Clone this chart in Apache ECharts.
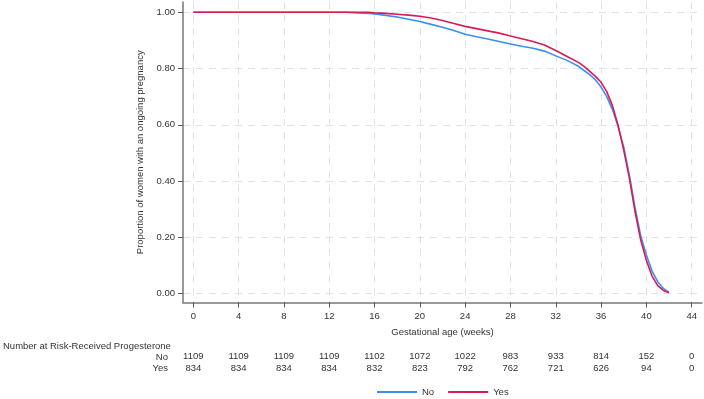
<!DOCTYPE html>
<html>
<head>
<meta charset="utf-8">
<script src="https://cdn.jsdelivr.net/npm/echarts@6/dist/echarts.min.js"></script>
<style>
	html, body { margin: 0; padding: 0; background: #fff; }
	#chart { width: 704px; height: 399px; }
</style>
</head>
<body>
<div id="chart"></div>
<script>
// x-axis ticks (weeks) and y-axis ticks
var xTicks = [0, 4, 8, 12, 16, 20, 24, 28, 32, 36, 40, 44];
var yTicks = [0, 0.2, 0.4, 0.6, 0.8, 1];

// Number at risk per tick
var riskNo = [1109, 1109, 1109, 1109, 1102, 1072, 1022, 983, 933, 814, 152, 0];
var riskYes = [834, 834, 834, 834, 832, 823, 792, 762, 721, 626, 94, 0];

// Received progesterone = No
var noWeeks = [0, 13.5, 14.5, 15.5, 16, 17, 18, 19, 20, 21, 22, 23, 24, 25, 26, 27, 28, 29, 30, 31, 32, 33, 34, 34.5, 35, 35.5, 36, 36.5, 37, 37.5, 38, 38.5, 39, 39.5, 40, 40.5, 41, 41.5, 42];
var noSurv = [1, 1, 0.998, 0.996, 0.994, 0.989, 0.983, 0.975, 0.967, 0.957, 0.947, 0.935, 0.922, 0.913, 0.905, 0.896, 0.887, 0.879, 0.872, 0.862, 0.845, 0.829, 0.808, 0.793, 0.778, 0.760, 0.734, 0.700, 0.655, 0.595, 0.520, 0.420, 0.305, 0.205, 0.137, 0.080, 0.042, 0.018, 0.004];

// Received progesterone = Yes
var yesWeeks = [0, 15.5, 16, 17, 18, 19, 20, 21, 22, 23, 24, 25, 26, 27, 28, 29, 30, 31, 32, 33, 34, 34.5, 35, 35.5, 36, 36.5, 37, 37.5, 38, 38.5, 39, 39.5, 40, 40.5, 41, 41.5, 42];
var yesSurv = [1, 1, 0.998, 0.996, 0.993, 0.990, 0.986, 0.980, 0.971, 0.960, 0.950, 0.942, 0.934, 0.926, 0.916, 0.906, 0.896, 0.884, 0.864, 0.843, 0.822, 0.808, 0.790, 0.772, 0.751, 0.718, 0.668, 0.598, 0.510, 0.410, 0.290, 0.190, 0.117, 0.062, 0.028, 0.011, 0.003];

var FONT = '"Liberation Sans", Arial, sans-serif';
var TEXT_COLOR = '#333';
var xMin = -0.91, xMax = 44.91;
var yMin = -0.032, yMax = 1.0366;

function pairs(xs, ys){
	var out = [];
	for(var i = 0; i < xs.length; i++){
		out.push([xs[i], ys[i]]);
	}
	return out;
}

// grid shared by plot and the two number-at-risk rows
function makeGrid(){
	return { left: 183, right: 2, top: 2, bottom: 96.5, containLabel: false };
}

// hidden axis that only prints the number at risk under each tick
function riskAxis(gridIdx, values, margin){
	return {
		type: 'value', gridIndex: gridIdx, min: xMin, max: xMax, position: 'bottom',
		axisLine: { show: false, onZero: false },
		axisTick: { show: false, customValues: xTicks },
		splitLine: { show: false },
		axisLabel: {
			customValues: xTicks, margin: margin, color: TEXT_COLOR, fontSize: 9.5, fontFamily: FONT,
			formatter: function(v){
				var idx = xTicks.indexOf(Math.round(v));
				return idx >= 0 ? String(values[idx]) : '';
			}
		}
	};
}

function hiddenY(gridIdx){
	return { type: 'value', gridIndex: gridIdx, min: 0, max: 1, show: false };
}

var myChart = echarts.init(document.getElementById('chart'), null, { renderer: 'canvas' });

var option = {
	animation: false,
	backgroundColor: '#fff',
	grid: [makeGrid(), makeGrid(), makeGrid()],
	legend: {
		data: ['No', 'Yes'],
		icon: 'rect',
		left: 372, top: 382, padding: 5,
		itemWidth: 40, itemHeight: 2, itemGap: 14,
		textStyle: { color: TEXT_COLOR, fontSize: 9.5, fontFamily: FONT }
	},
	xAxis: [{
		type: 'value', gridIndex: 0, min: xMin, max: xMax, position: 'bottom',
		name: 'Gestational age (weeks)', nameLocation: 'middle', nameGap: 25,
		nameTextStyle: { color: TEXT_COLOR, fontSize: 9.5, fontFamily: FONT },
		axisLine: { show: true, onZero: false, lineStyle: { color: '#777', width: 1.5 } },
		axisTick: { show: true, length: 5, customValues: xTicks, lineStyle: { color: '#555', width: 1 } },
		axisLabel: { customValues: xTicks, margin: 9, color: TEXT_COLOR, fontSize: 9.5, fontFamily: FONT },
		splitLine: { show: true, lineStyle: { color: '#e2e2e2', width: 1, type: [7, 6] } }
	},
	riskAxis(1, riskNo, 49),
	riskAxis(2, riskYes, 60.5)],
	yAxis: [{
		type: 'value', gridIndex: 0, min: yMin, max: yMax,
		name: 'Proportion of women with an ongoing pregnancy', nameLocation: 'middle', nameGap: 35, nameRotate: 90,
		nameTextStyle: { color: TEXT_COLOR, fontSize: 9.5, fontFamily: FONT },
		axisLine: { show: true, onZero: false, lineStyle: { color: '#777', width: 1.5 } },
		axisTick: { show: true, length: 5, customValues: yTicks, lineStyle: { color: '#555', width: 1 } },
		axisLabel: {
			customValues: yTicks, margin: 8, color: TEXT_COLOR, fontSize: 9.5, fontFamily: FONT,
			formatter: function(v){ return v.toFixed(2); }
		},
		splitLine: { show: true, lineStyle: { color: '#e2e2e2', width: 1, type: [7, 6] } }
	},
	hiddenY(1), hiddenY(2)],
	graphic: [
		{ type: 'text', x: 3, y: 346, style: { text: 'Number at Risk-Received Progesterone', textAlign: 'left', textVerticalAlign: 'middle', font: '9.5px ' + FONT, fill: TEXT_COLOR } },
		{ type: 'text', x: 168, y: 357, style: { text: 'No', textAlign: 'right', textVerticalAlign: 'middle', font: '9.5px ' + FONT, fill: TEXT_COLOR } },
		{ type: 'text', x: 168, y: 368.5, style: { text: 'Yes', textAlign: 'right', textVerticalAlign: 'middle', font: '9.5px ' + FONT, fill: TEXT_COLOR } }
	],
	series: [{
		name: 'No', type: 'line', xAxisIndex: 0, yAxisIndex: 0,
		data: pairs(noWeeks, noSurv),
		symbol: 'none', showSymbol: false,
		lineStyle: { color: '#3a8fef', width: 1.6 },
		itemStyle: { color: '#3a8fef' }
	},
	{
		name: 'Yes', type: 'line', xAxisIndex: 0, yAxisIndex: 0,
		data: pairs(yesWeeks, yesSurv),
		symbol: 'none', showSymbol: false,
		lineStyle: { color: '#d81b56', width: 1.6 },
		itemStyle: { color: '#d81b56' }
	}]
};
myChart.setOption(option);
</script>
</body>
</html>
